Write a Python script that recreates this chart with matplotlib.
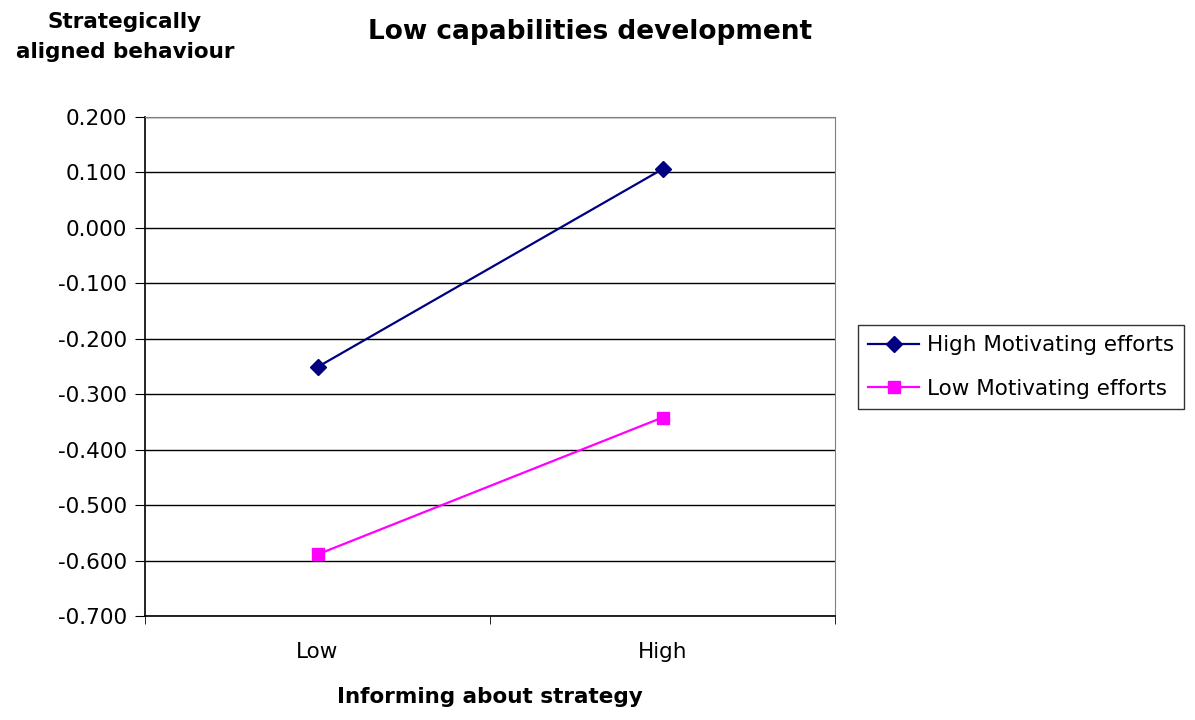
import matplotlib

matplotlib.use("Agg")

import matplotlib.pyplot as plt
import numpy as np

# the original text is stretched horizontally, DejaVu's wider glyphs come closer
plt.rcParams["font.family"] = ["DejaVu Sans"]

categories = ["Low", "High"]
high_motivating = [-0.251, 0.106]
low_motivating = [-0.589, -0.342]
series_labels = ["High Motivating efforts", "Low Motivating efforts"]
y_ticks = [0.2, 0.1, 0.0, -0.1, -0.2, -0.3, -0.4, -0.5, -0.6, -0.7]

fig = plt.figure(figsize=(11.95, 7.2), dpi=100)
ax = fig.add_axes([145 / 1195, 104 / 720, 690 / 1195, 499 / 720])

x = np.arange(len(categories))
ax.plot(x, high_motivating, color="#000080", marker="D", markersize=8,
        linewidth=1.6, label=series_labels[0], zorder=3)
ax.plot(x, low_motivating, color="#FF00FF", marker="s", markersize=8,
        linewidth=1.6, label=series_labels[1], zorder=3)

ax.set_xlim(-0.5, 1.5)
ax.set_ylim(-0.7, 0.2)
ax.set_yticks(y_ticks)
ax.set_yticklabels([f"{v:.3f}" for v in y_ticks], fontsize=15.5)
ax.yaxis.grid(True, color="black", linewidth=1.0)
ax.set_axisbelow(True)

ax.set_xticks(x)
ax.set_xticklabels(categories, fontsize=15.5)
ax.tick_params(axis="x", which="major", length=0, pad=19)
ax.set_xticks([-0.5, 0.5, 1.5], minor=True)
ax.tick_params(axis="x", which="minor", length=6, direction="out")
ax.tick_params(axis="y", length=7, direction="out", pad=6)

for side in ("top", "right"):
    ax.spines[side].set_color("#808080")
for side in ("left", "bottom"):
    ax.spines[side].set_color("black")
    ax.spines[side].set_linewidth(1.2)

ax.set_xlabel("Informing about strategy", fontsize=15.5, fontweight="bold", labelpad=18)

fig.text(590 / 1195, 1 - 32 / 720, "Low capabilities development",
         ha="center", va="center", fontsize=19, fontweight="bold")
fig.text(125 / 1195, 1 - 37 / 720, "Strategically\naligned behaviour",
         ha="center", va="center", fontsize=15.5, fontweight="bold", linespacing=1.6)

leg = fig.legend(loc="center left", bbox_to_anchor=(858 / 1195, 1 - 367 / 720),
                 fontsize=15.5, frameon=True, fancybox=False, edgecolor="black",
                 borderpad=0.45, handlelength=2.4, handletextpad=0.35,
                 labelspacing=1.1, borderaxespad=0)
leg.get_frame().set_linewidth(1.0)

fig.savefig("out.png", dpi=100, facecolor="white")
